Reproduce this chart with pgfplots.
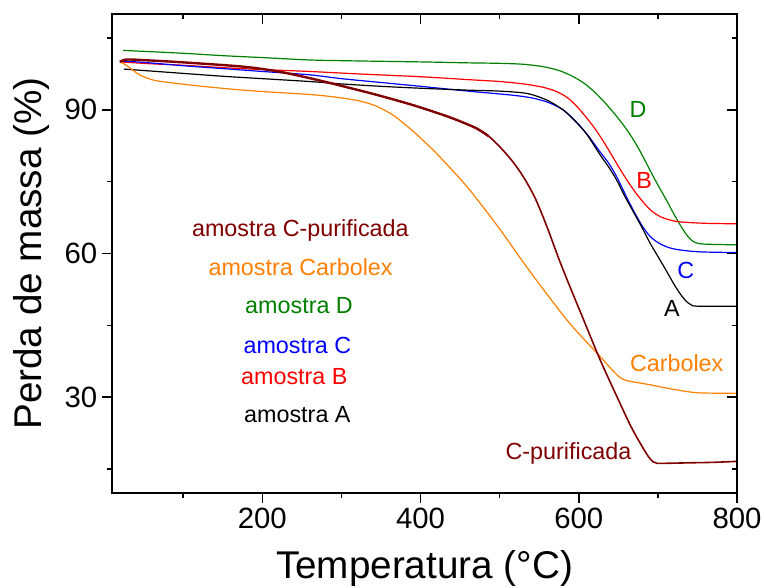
\documentclass[border=0pt]{standalone}
\usepackage{fontspec}
\setmainfont{Liberation Sans}
\usepackage{pgfplots}
\pgfplotsset{compat=1.18}
\definecolor{cD}{RGB}{0,128,0}
\definecolor{cB}{RGB}{255,0,0}
\definecolor{cC}{RGB}{0,0,255}
\definecolor{cP}{RGB}{128,0,0}
\definecolor{cO}{RGB}{255,128,0}
\begin{document}
\begin{tikzpicture}
\useasboundingbox (-84pt,-71.25pt) rectangle (489pt,369.75pt);
\begin{axis}[
  at={(0,0)}, anchor=south west,
  scale only axis, width=468.75pt, height=359.25pt,
  xmin=10, xmax=800, ymin=10, ymax=110,
  xtick={200,400,600,800}, minor xtick={100,300,500,700},
  ytick={30,60,90}, minor ytick={15,45,75,105},
  xtick pos=left, ytick pos=left,
  tick align=outside,
  major tick length=7.5pt, minor tick length=3.75pt,
  axis line style={line width=1.2pt},
  every tick/.style={line width=1.1pt, black},
  tick label style={font=\fontsize{22}{26}\selectfont},
  /pgf/number format/assume math mode=true,
  xlabel={Temperatura (°C)}, ylabel={Perda de massa (\%)},
  label style={font=\fontsize{29}{33}\selectfont},
  xlabel style={at={(axis description cs:0.5,-0.1775)}, anchor=base},
  ylabel style={at={(axis description cs:-0.112,0.5)}, anchor=base},
  clip=false,
]
% green D
\addplot[cD, line width=0.9pt, smooth, tension=0.5] table {
24 102.4
50 102.2
100 101.8
150 101.3
200 100.9
260 100.4
320 100.2
400 100.0
460 99.8
500 99.7
530 99.5
555 99.0
575 98.2
592 97.0
607 95.5
620 93.7
633 91.5
648 88.6
660 86.0
670 83.5
680 80.6
690 77.4
700 74.3
711 71.1
720 68.3
728 66.0
735 64.2
741 63.0
747 62.3
755 62.0
770 61.9
800 61.8
};
% red B
\addplot[cB, line width=0.9pt, smooth, tension=0.5] table {
20 100.0
60 99.6
100 99.3
150 98.8
200 98.4
260 98.0
320 97.5
400 96.9
460 96.3
500 95.9
530 95.4
555 94.7
572 93.8
585 92.6
596 91.0
607 88.9
619 86.4
630 83.7
640 81.0
650 78.2
661 75.3
671 72.9
682 70.6
692 68.9
703 67.7
715 67.0
728 66.6
760 66.3
800 66.2
};
% blue C
\addplot[cC, line width=0.9pt, smooth, tension=0.5] table {
20 100.2
50 99.9
100 99.2
150 98.6
200 98.0
260 97.3
300 96.5
350 95.7
400 94.9
460 93.9
513 93.1
540 92.5
562 91.5
580 90.0
595 87.8
610 85.0
627 81.2
638 78.8
648 76.0
658 72.6
669 69.0
680 65.8
690 63.6
700 62.3
711 61.4
722 60.9
740 60.5
760 60.3
800 60.2
};
% black A
\addplot[black, line width=0.9pt, smooth, tension=0.5] table {
25 98.5
50 98.2
100 97.6
150 97.0
200 96.5
260 95.9
300 95.4
350 94.9
400 94.5
460 94.1
500 93.9
535 93.4
560 92.0
580 90.0
595 87.7
610 84.9
627 80.6
638 78.0
648 75.3
658 72.0
669 68.7
680 65.4
690 62.2
700 59.4
711 56.3
721 53.4
729 51.4
736 50.0
742 49.3
750 49.0
800 49.0
};
% orange Carbolex
\addplot[cO, line width=0.9pt, smooth, tension=0.5] table {
20 100.0
25 99.6
33 98.7
42 97.6
50 96.9
65 96.1
92 95.5
130 94.8
176 94.1
220 93.6
260 93.2
295 92.6
324 91.8
345 90.7
366 88.8
390 85.6
416 81.6
440 77.4
459 73.9
480 69.5
501 64.9
522 60.0
543 55.2
564 50.6
585 46.1
606 42.2
627 38.5
640 36.1
650 34.4
658 33.6
669 33.2
690 32.6
711 31.9
732 31.3
753 30.9
800 30.8
};
% brown C-purificada (thick early part)
\addplot[cP, line width=1.8pt, smooth, tension=0.5] table {
20 100.0
25 100.4
33 100.5
58 100.3
100 99.9
176 99.0
220 98.0
260 96.6
300 95.0
345 93.1
390 91.0
429 88.9
450 87.6
471 86.1
486 84.5
};
% brown C-purificada (later part)
\addplot[cP, line width=1.2pt, smooth, tension=0.5] table {
471 86.1
486 84.5
500 82.3
515 79.5
530 76.0
545 71.5
560 65.5
575 58.8
590 52.6
606 46.2
627 37.8
648 30.2
665 24.2
678 20.3
688 17.6
694 16.5
699 16.2
710 16.2
740 16.3
770 16.4
800 16.6
};
\begin{scope}[font=\fontsize{17.5}{20}\selectfont]
\node[text=cP, anchor=base] at (axis cs:248.1,63.65) {amostra C-purificada};
\node[text=cO, anchor=base] at (axis cs:248.4,55.5) {amostra Carbolex};
\node[text=cD, anchor=base] at (axis cs:246.4,47.5) {amostra D};
\node[text=cC, anchor=base] at (axis cs:244.3,39.2) {amostra C};
\node[text=cB, anchor=base] at (axis cs:240.5,32.7) {amostra B};
\node[text=black, anchor=base] at (axis cs:244.3,24.7) {amostra A};
\node[text=cD, anchor=base] at (axis cs:675,88.4) {D};
\node[text=cB, anchor=base] at (axis cs:682.6,73.6) {B};
\node[text=cC, anchor=base] at (axis cs:735.4,54.8) {C};
\node[text=black, anchor=base] at (axis cs:717.6,46.95) {A};
\node[text=cO, anchor=base] at (axis cs:723.8,35.3) {Carbolex};
\node[text=cP, anchor=base] at (axis cs:587,16.9) {C-purificada};
\end{scope}
\end{axis}
\begin{axis}[
  at={(0,0)}, anchor=south west,
  scale only axis, width=468.75pt, height=359.25pt,
  xmin=10, xmax=800, ymin=10, ymax=110,
  xtick={200,400,600,800}, minor xtick={100,300,500,700},
  ytick={30,60,90}, minor ytick={15,45,75,105},
  xtick pos=right, ytick pos=right,
  tick align=inside,
  major tick length=7.5pt, minor tick length=3.75pt,
  axis line style={line width=1.2pt},
  every tick/.style={line width=1.1pt, black},
  xticklabels={}, yticklabels={},
]
\end{axis}
\end{tikzpicture}
\end{document}
